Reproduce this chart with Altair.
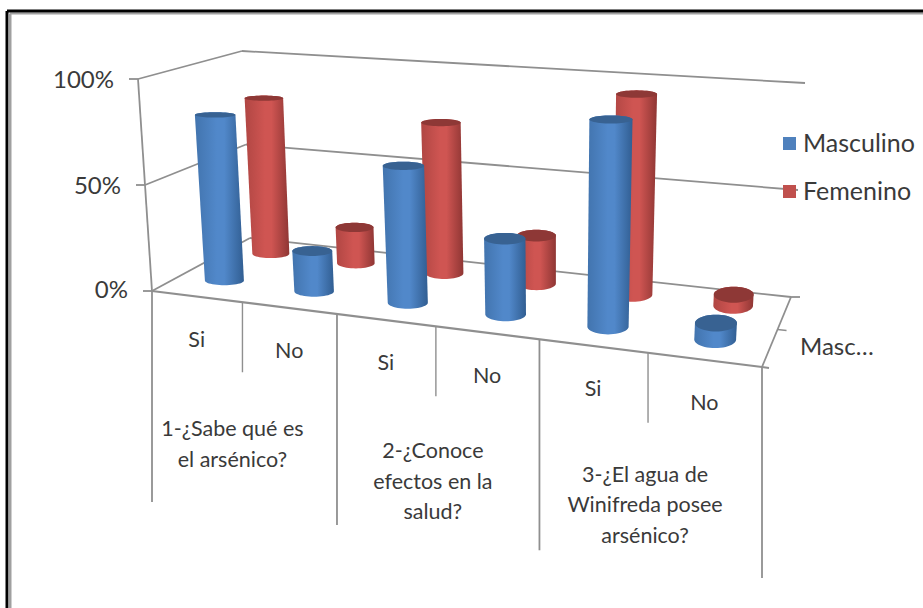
import math
import altair as alt
import pandas as pd

# Survey answers, in percent, per question and answer.
answers = ["Si", "No", "Si", "No", "Si", "No"]
masculino = [80, 19, 63, 34, 91, 7]
femenino = [80, 18, 74, 23, 94, 5]
axis_ticks = [0, 50, 100]
questions = [
    ["1-¿Sabe qué es", "el arsénico?"],
    ["2-¿Conoce", "efectos en la", "salud?"],
    ["3-¿El agua de", "Winifreda posee", "arsénico?"],
]

W, H = 923, 608

# Box geometry of the 3D view: floor corners and the lifted 100% corners.
FL, FR, BL, BR = (152, 291), (762, 367), (250, 238), (791, 297)
FL_T, FR_T, BL_T, BR_T = (138, 79), (778, 122), (242, 51), (805, 83)
ROWS = {"Masculino": 0.27, "Femenino": 0.77}
BAR_RADIUS = {"Masculino": 19.5, "Femenino": 18.5}

# Offset of each question's text block from its span on the front edge.
QUESTION_NUDGE = [(-10, 128), (-3, 126), (-3, 123)]


def homography(a, b, c, d):
    """Map the unit square onto the quad a(0,0) b(1,0) c(0,1) d(1,1)."""
    dx1, dx2 = b[0] - d[0], c[0] - d[0]
    dy1, dy2 = b[1] - d[1], c[1] - d[1]
    sx, sy = a[0] - b[0] - c[0] + d[0], a[1] - b[1] - c[1] + d[1]
    det = dx1 * dy2 - dx2 * dy1
    g = (sx * dy2 - dx2 * sy) / det
    h = (dx1 * sy - sx * dy1) / det
    m = (
        b[0] - a[0] + g * b[0], c[0] - a[0] + h * c[0], a[0],
        b[1] - a[1] + g * b[1], c[1] - a[1] + h * c[1], a[1],
        g, h,
    )

    def f(u, v):
        w = m[6] * u + m[7] * v + 1
        return (m[0] * u + m[1] * v + m[2]) / w, (m[3] * u + m[4] * v + m[5]) / w

    return f


floor = homography(FL, FR, BL, BR)
ceiling = homography(FL_T, FR_T, BL_T, BR_T)


def project(slot, depth, pct):
    """Screen position of category slot (0-6), depth (0-1) and a percentage."""
    u = slot / 6
    x0, y0 = floor(u, depth)
    x1, y1 = ceiling(u, depth)
    t = pct / 100
    return x0 + (x1 - x0) * t, y0 + (y1 - y0) * t


# Frame, walls, floor and tick lines.
segments = []


def add_seg(a, b, color="#8f8f8f", w=1.8):
    segments.append(dict(x=a[0], y=a[1], x2=b[0], y2=b[1], c=color, w=w))


for pct in axis_ticks:
    front, back = project(0, 0, pct), project(0, 1, pct)
    right = project(6, 1, pct)
    add_seg(front, back)
    add_seg(back, right)
    add_seg((front[0] - 9, front[1]), front)
add_seg(project(0, 0, 0), project(0, 0, 100))
add_seg(FL, FR, w=2.2)
add_seg(FR, BR)
add_seg(BR, (BR[0] + 9, BR[1]))
add_seg(FR, (FR[0] + 7, FR[1] + 1))
mid = floor(1, 0.5)
add_seg(mid, (mid[0] + 9, mid[1] + 1), w=1.4)
for slot in range(7):
    top = project(slot, 0, 0)
    drop = 211 if slot % 2 == 0 else 70
    add_seg(top, (top[0], top[1] + drop), w=1.8 if slot % 2 == 0 else 1.4)

# Outer border of the picture.
add_seg((7, 11), (W, 11), "#000000", 3)
add_seg((7, 11), (7, H), "#000000", 3)
add_seg((10, 13.5), (W, 13.5), "#a0a0a0", 2)
add_seg((10, 13.5), (10, H), "#a0a0a0", 3)

segs = pd.DataFrame(segments)

# Cylinders: a silhouette as a horizontal area and a darker cap on top.
bodies, caps = [], []
for series, values in (("Masculino", masculino), ("Femenino", femenino)):
    depth = ROWS[series]
    r0 = BAR_RADIUS[series]
    for i, value in enumerate(values):
        slot = i + 0.5
        bx, by = project(slot, depth, 0)
        tx, ty = project(slot, depth, value)
        grow = 1 + 0.0018 * i * 8
        r_base = r0 * grow
        r_top = r_base * (1 + value / 100 * 0.05)
        tilt = 0.24 + 0.035 * i
        ry_base = r_base * tilt
        ry_top = r_top * tilt * (1 - 0.55 * value / 100)
        key = f"{series}{i}"
        steps = 12
        for k in range(steps + 1):
            a = -math.pi / 2 + k / steps * math.pi / 2
            half = r_top * math.cos(a)
            y = ty + ry_top * math.sin(a)
            bodies.append(dict(key=key, s=series, y=y, x=tx - half, x2=tx + half))
        for k in range(steps + 1):
            a = k / steps * math.pi / 2
            half = r_base * math.cos(a)
            y = by + ry_base * math.sin(a)
            bodies.append(dict(key=key, s=series, y=y, x=bx - half, x2=bx + half))
        for k in range(2 * steps + 1):
            a = -math.pi / 2 + k / (2 * steps) * math.pi
            half = r_top * math.cos(a)
            y = ty + ry_top * math.sin(a)
            caps.append(dict(key=key, s=series, y=y, x=tx - half, x2=tx + half))

bodies = pd.DataFrame(bodies)
caps = pd.DataFrame(caps)

# Text labels, anchored relative to the front edge of the floor.
labels = []
for pct in axis_ticks:
    x, y = project(0, 0, pct)
    labels.append(dict(x=x - 24, y=y + (0 if pct == 0 else 2), t=f"{pct}%", a="right"))
for i, ans in enumerate(answers):
    x, y = project(i + 0.5, 0, 0)
    labels.append(dict(x=x, y=y + 44, t=ans, a="center"))
for q, lines in enumerate(questions):
    x, y = project(2 * q + 1, 0, 0)
    for j, line in enumerate(lines):
        labels.append(dict(x=x + QUESTION_NUDGE[q][0], y=y + QUESTION_NUDGE[q][1] + j * 30.5, t=line, a="center"))
labels.append(dict(x=800, y=348, t="Masc…", a="left"))
labels_df = pd.DataFrame(labels)

legend_df = pd.DataFrame(
    [
        dict(x=783, x2=796, y=137, y2=150, c="#4f81bd", t="Masculino", tx=803),
        dict(x=783, x2=796, y=185, y2=198, c="#c0504d", t="Femenino", tx=803),
    ]
)

xs = alt.Scale(domain=[0, W], range=[0, W], nice=False, zero=False)
ys = alt.Scale(domain=[0, H], range=[0, H], nice=False, zero=False)
X = alt.X("x:Q", scale=xs, axis=None)
Y = alt.Y("y:Q", scale=ys, axis=None)

FONT = "Lato"


def side_gradient(edge_l, mid_c, edge_r):
    return alt.Gradient(
        gradient="linear", x1=0, x2=1, y1=0, y2=0,
        stops=[
            alt.GradientStop(color=edge_l, offset=0),
            alt.GradientStop(color=mid_c, offset=0.45),
            alt.GradientStop(color=mid_c, offset=0.6),
            alt.GradientStop(color=edge_r, offset=1),
        ],
    )


def cylinder_layers(series, edge_l, mid_c, edge_r, cap):
    body = (
        alt.Chart(bodies[bodies.s == series])
        .mark_area(orient="horizontal", color=side_gradient(edge_l, mid_c, edge_r))
        .encode(x=X, x2="x2:Q", y=Y, detail="key:N")
    )
    top = (
        alt.Chart(caps[caps.s == series])
        .mark_area(orient="horizontal", color=cap)
        .encode(x=X, x2="x2:Q", y=Y, detail="key:N")
    )
    return [body, top]


rules = [
    alt.Chart(segs[segs.w == w])
    .mark_rule(strokeWidth=float(w))
    .encode(x=X, y=Y, x2="x2:Q", y2="y2:Q", color=alt.Color("c:N", scale=None))
    for w in sorted(segs.w.unique())
]

label_sizes = {"left": 24, "right": 24, "center": 21.5}
texts = [
    alt.Chart(labels_df[labels_df.a == a])
    .mark_text(font=FONT, fontSize=label_sizes[a], color="#3a3a3a", align=a, baseline="middle")
    .encode(x=X, y=Y, text="t:N")
    for a in ("left", "right", "center")
]

legend_marks = (
    alt.Chart(legend_df)
    .mark_rect()
    .encode(x=X, x2="x2:Q", y=Y, y2="y2:Q", color=alt.Color("c:N", scale=None))
)
legend_text = (
    alt.Chart(legend_df)
    .transform_calculate(mid="(datum.y + datum.y2) / 2")
    .mark_text(font=FONT, fontSize=25, color="#3a3a3a", align="left", baseline="middle")
    .encode(x=alt.X("tx:Q", scale=xs, axis=None), y=alt.Y("mid:Q", scale=ys, axis=None), text="t:N")
)

chart = (
    alt.layer(
        *rules,
        *cylinder_layers("Femenino", "#b04643", "#cf5552", "#8f3634", "#8e3836"),
        *cylinder_layers("Masculino", "#4274ae", "#5188ca", "#315e92", "#386292"),
        legend_marks,
        legend_text,
        *texts,
    )
    .properties(width=W, height=H, padding=0, background="#ffffff", autosize=alt.AutoSizeParams(type="none"))
    .configure_view(stroke=None)
)

chart.save("out.html", embed_options={"renderer": "svg", "actions": False})
